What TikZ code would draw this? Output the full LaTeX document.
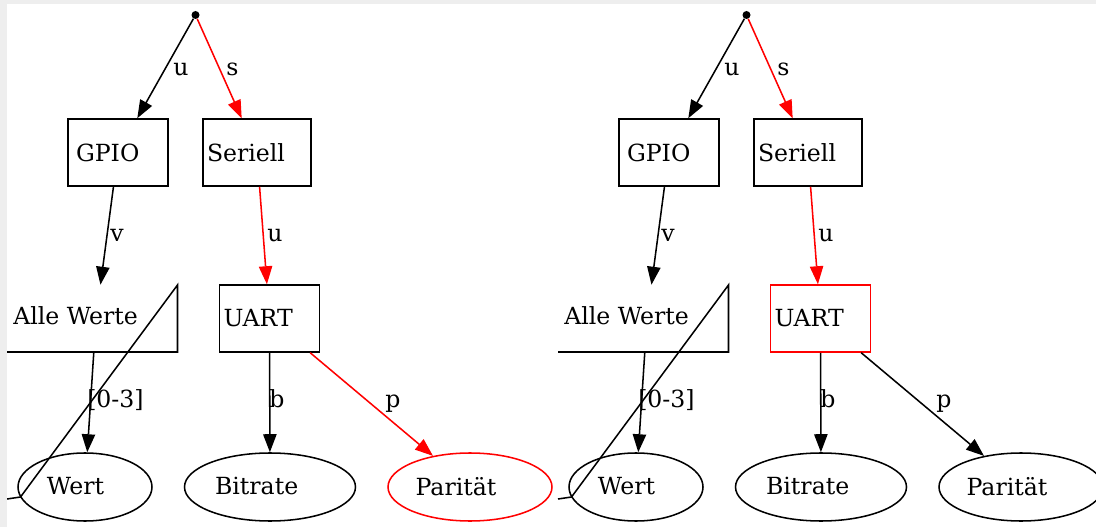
\documentclass[tikz,border=0pt]{standalone}
\usepackage{fontspec}
\setmainfont{DejaVu Serif}
\usetikzlibrary{arrows.meta,shapes.geometric}
\definecolor{framegray}{RGB}{238,238,238}
\tikzset{
  every node/.style={font=\fontsize{17.7}{20}\selectfont},
  boxn/.style={draw, rectangle, line width=1.15pt, minimum height=50.25pt, inner ysep=0pt, align=left},
  ell/.style={draw, ellipse, line width=1.15pt, minimum width=#1*0.75pt, minimum height=51pt, inner sep=0pt},
  edgearrow/.style={line width=1.15pt, -{Triangle[length=13.5pt,width=10pt]}},
  lbl/.style={anchor=base west, inner sep=0pt},
}
\newcommand\drawtree[4]{%
\begin{scope}[xshift=#1*0.75pt]
  \node[circle, fill, inner sep=0pt, minimum size=6pt] (#2dot) at (195.5,15) {};
  \node[boxn, text width=63pt, inner xsep=6pt] (#2gpio) at (118,152.5) {GPIO};
  \node[boxn, text width=75pt, inner xsep=3pt] (#2ser) at (257,152.5) {Seriell};
  \node[boxn, draw=#3, text width=69pt, inner xsep=3pt] (#2uart) at (269.5,318.5) {UART};
  \node[minimum width=133.5pt, minimum height=50.25pt, inner sep=0pt] (#2alle) at (96,318.5) {};
  \node[lbl] (#2allet) at (13,325) {Alle Werte};
  \draw[line width=1.15pt, line join=miter] (7,352) -- (177.5,352) -- (177.5,285) -- (20.5,497) -- (7,499);
  \node[ell=134] (#2wert) at (85,487) {\raisebox{1.2pt}{Wert}\hspace*{14.25pt}};
  \node[ell=171] (#2bit) at (270,487) {\raisebox{1.2pt}{Bitrate}\hspace*{20pt}};
  \node[ell=164, draw=#4] (#2par) at (470,487) {\raisebox{1.2pt}{Parität}\hspace*{21pt}};
  \draw[edgearrow] (#2dot) -- (#2gpio);
  \draw[edgearrow, red] (#2dot) -- (#2ser);
  \draw[edgearrow] (#2gpio) -- (#2alle);
  \draw[edgearrow, red] (#2ser) -- (#2uart);
  \draw[edgearrow] (#2alle) -- (#2wert);
  \draw[edgearrow] (#2uart) -- (#2bit);
  \draw[edgearrow, #4] (#2uart) -- (#2par);
  \node[lbl] (#2lu) at (173,76) {u};
  \node[lbl] (#2ls) at (226,76) {s};
  \node[lbl] (#2lv) at (110,242) {v};
  \node[lbl] (#2lu2) at (267,242) {u};
  \node[lbl] (#2lr) at (87,407) {[0-3]};
  \node[lbl] (#2lb) at (269,407) {b};
  \node[lbl] (#2lp) at (385,407) {p};
\end{scope}}
\begin{document}
\begin{tikzpicture}[x=0.75pt, y=-0.75pt]
  \useasboundingbox (0,0) rectangle (1096,527);
  \fill[framegray] (0,0) rectangle (1096,527);
  \fill[white] (7,4) rectangle (1096,527);
  \begin{scope}
    \clip (7,4) rectangle (1096,527);
    \drawtree{0}{a}{black}{red}
    \drawtree{551}{b}{red}{black}
  \end{scope}
\end{tikzpicture}
\end{document}
